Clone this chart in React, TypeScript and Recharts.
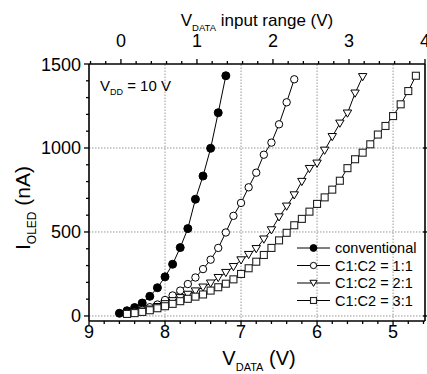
import React from 'react';
import { LineChart, Line, XAxis, YAxis, ReferenceLine } from 'recharts';

// V_DATA (V) and I_OLED (nA) for each curve
const vConventional = [8.6, 8.5, 8.4, 8.3, 8.2, 8.1, 8.0, 7.9, 7.8, 7.7, 7.6, 7.5, 7.4, 7.3, 7.2];
const iConventional = [16, 31, 50, 77, 117, 168, 233, 308, 407, 520, 695, 833, 998, 1210, 1430];

const vRatio11 = [8.5, 8.4, 8.3, 8.2, 8.1, 8.0, 7.9, 7.8, 7.7, 7.6, 7.5, 7.4, 7.3, 7.2, 7.1, 7.0, 6.9, 6.8, 6.7, 6.6, 6.5, 6.4, 6.3];
const iRatio11 = [15, 23, 36, 52, 68, 95, 122, 151, 190, 229, 279, 335, 405, 497, 596, 673, 766, 853, 960, 1032, 1141, 1272, 1409];

const vRatio21 = [8.5, 8.4, 8.3, 8.2, 8.1, 8.0, 7.9, 7.8, 7.7, 7.6, 7.5, 7.4, 7.3, 7.2, 7.1, 7.0, 6.9, 6.8, 6.7, 6.6, 6.5, 6.4, 6.3, 6.2, 6.1, 6.0, 5.9, 5.8, 5.7, 5.6, 5.5, 5.4];
const iRatio21 = [12, 19, 28, 40, 55, 72, 90, 108, 128, 148, 171, 195, 228, 258, 293, 333, 365, 400, 457, 512, 589, 653, 720, 800, 877, 909, 986, 1067, 1147, 1207, 1326, 1424];

const vRatio31 = [8.5, 8.4, 8.3, 8.2, 8.1, 8.0, 7.9, 7.8, 7.7, 7.6, 7.5, 7.4, 7.3, 7.2, 7.1, 7.0, 6.9, 6.8, 6.7, 6.6, 6.5, 6.4, 6.3, 6.2, 6.1, 6.0, 5.9, 5.8, 5.7, 5.6, 5.5, 5.4, 5.3, 5.2, 5.1, 5.0, 4.9, 4.8, 4.7];
const iRatio31 = [12, 17, 24, 34, 46, 58, 72, 88, 102, 115, 128, 151, 171, 192, 218, 250, 284, 323, 363, 405, 450, 495, 540, 578, 621, 667, 706, 752, 805, 880, 933, 972, 1022, 1080, 1131, 1190, 1260, 1339, 1430];

// ticks
const bottomTicks = [9, 8.8, 8.6, 8.4, 8.2, 8, 7.8, 7.6, 7.4, 7.2, 7, 6.8, 6.6, 6.4, 6.2, 6, 5.8, 5.6, 5.4, 5.2, 5, 4.8, 4.6];
const bottomLabels = [9, 8, 7, 6, 5];
const topTicks = [-0.4, -0.2, 0, 0.2, 0.4, 0.6, 0.8, 1, 1.2, 1.4, 1.6, 1.8, 2, 2.2, 2.4, 2.6, 2.8, 3, 3.2, 3.4, 3.6, 3.8, 4];
const topLabels = [0, 1, 2, 3, 4];
const yTicks = [0, 100, 200, 300, 400, 500, 600, 700, 800, 900, 1000, 1100, 1200, 1300, 1400, 1500];
const yLabels = [0, 500, 1000, 1500];
const gridV = [8, 7, 6, 5];
const gridI = [0, 500, 1000];

const legendNames = ['conventional', 'C1:C2 = 1:1', 'C1:C2 = 2:1', 'C1:C2 = 3:1'];

type Kind = 'filled' | 'open' | 'tri' | 'square';

const toRows = (v: number[], i: number[]) => v.map((x, k) => ({ v: x, i: i[k] }));

const series: { name: string; kind: Kind; data: { v: number; i: number }[] }[] = [
  { name: legendNames[0], kind: 'filled', data: toRows(vConventional, iConventional) },
  { name: legendNames[1], kind: 'open', data: toRows(vRatio11, iRatio11) },
  { name: legendNames[2], kind: 'tri', data: toRows(vRatio21, iRatio21) },
  { name: legendNames[3], kind: 'square', data: toRows(vRatio31, iRatio31) },
];

const FONT = '"Liberation Sans", Arial, Helvetica, sans-serif';

const Marker = ({ kind, cx, cy, s = 1 }: { kind: Kind; cx: number; cy: number; s?: number }) => {
  if (cx == null || cy == null) return null;
  if (kind === 'filled') return <circle cx={cx} cy={cy} r={4 * s} fill="#000" stroke="#000" strokeWidth={1} />;
  if (kind === 'open') return <circle cx={cx} cy={cy} r={3.7 * s} fill="#fff" stroke="#000" strokeWidth={1} />;
  if (kind === 'tri') {
    const w = 4.2 * s;
    const pts = `${cx - w},${cy - 3.2 * s} ${cx + w},${cy - 3.2 * s} ${cx},${cy + 4 * s}`;
    return <polygon points={pts} fill="#fff" stroke="#000" strokeWidth={1} />;
  }
  const h = 3.5 * s;
  return <rect x={cx - h} y={cy - h} width={2 * h} height={2 * h} fill="#fff" stroke="#222" strokeWidth={1.1} />;
};

const BottomTick = (p: any) => {
  const v = p.payload.value;
  const major = bottomLabels.includes(v);
  return (
    <g>
      <line x1={p.x} x2={p.x} y1={p.y} y2={p.y + (major ? 5 : 3)} stroke="#000" strokeWidth={1.3} />
      {major && (
        <text x={p.x} y={p.y + 17} textAnchor="middle" fontSize={18} fontFamily={FONT} fill="#000">
          {v}
        </text>
      )}
    </g>
  );
};

const TopTick = (p: any) => {
  const v = p.payload.value;
  const major = topLabels.includes(v);
  return (
    <g>
      <line x1={p.x} x2={p.x} y1={p.y} y2={p.y - (major ? 5 : 3)} stroke="#000" strokeWidth={1.3} />
      {major && (
        <text x={p.x} y={p.y - 17} textAnchor="middle" fontSize={18} fontFamily={FONT} fill="#000">
          {v}
        </text>
      )}
    </g>
  );
};

const LeftTick = (p: any) => {
  const v = p.payload.value;
  const major = yLabels.includes(v);
  return (
    <g>
      <line x1={p.x - (major ? 5 : 3)} x2={p.x} y1={p.y} y2={p.y} stroke="#000" strokeWidth={1.3} />
      {major && (
        <text x={p.x - 8} y={p.y + 6.5} textAnchor="end" fontSize={18} fontFamily={FONT} fill="#000">
          {v}
        </text>
      )}
    </g>
  );
};

const RightTick = (p: any) => (
  <line x1={p.x - 2} x2={p.x + 2} y1={p.y} y2={p.y} stroke="#000" strokeWidth={1.3} />
);

const legendRows = [248, 265.5, 283, 300.5];

const App = () => (
  <div style={{ position: 'absolute', left: 0, top: 0, width: 427, height: 374, background: '#fff' }}>
    <LineChart width={427} height={374} margin={{ top: 0, right: 0, bottom: 0, left: 0 }}>
      <XAxis
        xAxisId="bottom"
        type="number"
        dataKey="v"
        domain={[4.58, 9]}
        reversed
        allowDataOverflow
        ticks={bottomTicks}
        interval={0}
        height={53}
        tickLine={false}
        tickSize={0}
        tickMargin={0}
        tick={BottomTick}
        axisLine={{ stroke: '#000', strokeWidth: 1.6 }}
      />
      <XAxis
        xAxisId="top"
        orientation="top"
        type="number"
        dataKey="v"
        domain={[-0.42, 4]}
        allowDataOverflow
        ticks={topTicks}
        interval={0}
        height={64}
        tickLine={false}
        tickSize={0}
        tickMargin={0}
        tick={TopTick}
        axisLine={{ stroke: '#000', strokeWidth: 1.6 }}
      />
      <YAxis
        yAxisId="left"
        type="number"
        domain={[-30, 1500]}
        allowDataOverflow
        ticks={yTicks}
        interval={0}
        width={89}
        tickLine={false}
        tickSize={0}
        tickMargin={0}
        tick={LeftTick}
        axisLine={{ stroke: '#000', strokeWidth: 1.6 }}
      />
      <YAxis
        yAxisId="right"
        orientation="right"
        type="number"
        domain={[-30, 1500]}
        allowDataOverflow
        ticks={gridI}
        interval={0}
        width={2}
        tickLine={false}
        tickSize={0}
        tickMargin={0}
        tick={RightTick}
        axisLine={{ stroke: '#000', strokeWidth: 1.6 }}
      />
      {gridV.map((g) => (
        <ReferenceLine key={`gv${g}`} x={g} xAxisId="bottom" yAxisId="left" stroke="#999" strokeDasharray="1.5 1.5" />
      ))}
      {gridI.map((g) => (
        <ReferenceLine key={`gi${g}`} y={g} xAxisId="bottom" yAxisId="left" stroke="#999" strokeDasharray="1.5 1.5" />
      ))}
      {series.map((s) => (
        <Line
          key={s.name}
          name={s.name}
          data={s.data}
          dataKey="i"
          xAxisId="bottom"
          yAxisId="left"
          type="linear"
          stroke="#000"
          strokeWidth={1}
          isAnimationActive={false}
          activeDot={false}
          dot={(p: any) => <Marker key={`${s.kind}${p.index}`} kind={s.kind} cx={p.cx} cy={p.cy} />}
        />
      ))}
    </LineChart>
    <svg width={427} height={374} style={{ position: 'absolute', left: 0, top: 0, pointerEvents: 'none' }} fontFamily={FONT}>
      <text x={257} y={26} textAnchor="middle" fontSize={17} fill="#000">
        V<tspan fontSize={9.5} dy={5}>DATA</tspan>
        <tspan dy={-5}> input range (V)</tspan>
      </text>
      <text x={259} y={365} textAnchor="middle" fontSize={20} fill="#000">
        V<tspan fontSize={11} dy={6}>DATA</tspan>
        <tspan dy={-6}> (V)</tspan>
      </text>
      <text x={30} y={208} transform="rotate(-90 30 208)" textAnchor="middle" fontSize={21} fill="#000">
        I<tspan fontSize={12} dy={6}>OLED</tspan>
        <tspan dy={-6}> (nA)</tspan>
      </text>
      <text x={100} y={91} fontSize={15} fill="#000">
        V<tspan fontSize={9} dy={4}>DD</tspan>
        <tspan dy={-4}> = 10 V</tspan>
      </text>
      {series.map((s, k) => (
        <g key={`lg${s.name}`}>
          <line x1={297} x2={330} y1={legendRows[k]} y2={legendRows[k]} stroke="#000" strokeWidth={1} />
          <Marker kind={s.kind} cx={313.5} cy={legendRows[k]} s={0.85} />
          <text x={335} y={legendRows[k] + 5} fontSize={14.5} fill="#000">
            {s.name}
          </text>
        </g>
      ))}
    </svg>
  </div>
);

export default App;
